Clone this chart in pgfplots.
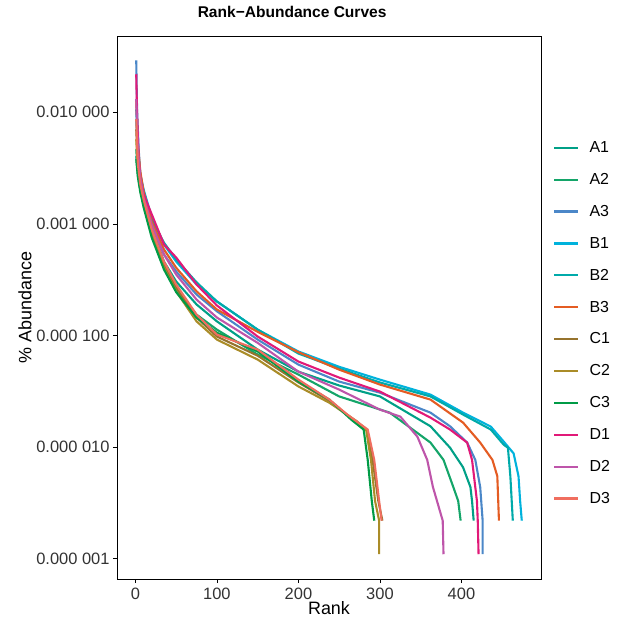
\documentclass[border=0pt]{standalone}
\usepackage{fontspec}
\setmainfont{Liberation Sans}
\usepackage{pgfplots}
\pgfplotsset{compat=1.18}

\definecolor{cA1}{RGB}{0,160,135}
\definecolor{cA2}{RGB}{20,165,105}
\definecolor{cA3}{RGB}{75,135,200}
\definecolor{cB1}{RGB}{0,178,220}
\definecolor{cB2}{RGB}{0,170,170}
\definecolor{cB3}{RGB}{228,92,35}
\definecolor{cC1}{RGB}{150,115,45}
\definecolor{cC2}{RGB}{170,140,40}
\definecolor{cC3}{RGB}{0,155,70}
\definecolor{cD1}{RGB}{225,25,120}
\definecolor{cD2}{RGB}{190,85,170}
\definecolor{cD3}{RGB}{240,110,95}

\begin{document}
\begin{tikzpicture}
\begin{axis}[
  name=ax,
  scale only axis, width=424bp, height=543bp,
  xmin=-22.6, xmax=497.6,
  ymode=log, ymin=6.6e-7, ymax=0.0482,
  xtick={0,100,200,300,400}, xticklabels={0,100,200,300,400},
  ytick={1e-6,1e-5,1e-4,1e-3,1e-2},
  yticklabels={0.000 001,0.000 010,0.000 100,0.001 000,0.010 000},
  xtick pos=left, ytick pos=left,
  minor tick num=0, log basis y=10,
  yminorticks=false,
  tick align=outside, major tick length=4bp,
  tick style={black, line width=0.8bp},
  axis line style={black, line width=0.8bp},
  tick label style={font=\fontsize{16.5}{19}\selectfont, text=black!80},
  xticklabel style={yshift=-1bp},
  ylabel={\% Abundance}, xlabel={Rank},
  label style={font=\fontsize{18}{21}\selectfont},
  xlabel style={at={(rel axis cs:0.5,0)}, anchor=center, yshift=-29bp},
  ylabel style={at={(rel axis cs:0,0.5)}, anchor=center, yshift=92bp},
  title={Rank−Abundance Curves},
  title style={font=\bfseries\fontsize{15.6}{18}\selectfont, at={(rel axis cs:0.413,1)}, anchor=base, yshift=13bp},
  every axis plot post/.append style={line width=2.1bp, line join=round},
  legend image code/.code={\draw[#1, line width=2.3bp] (0bp,0bp) -- (24bp,0bp);},
  legend cell align=left,
  legend style={draw=none, fill=none, at={(1,0.471)}, xshift=12bp, anchor=west,
    inner sep=0pt, row sep=19.3bp, font=\fontsize{16}{19}\selectfont,
    nodes={inner sep=0pt},
    /tikz/every odd column/.append style={column sep=10bp}},
]
% A1
\addplot[cA1] coordinates {(1,0.00403)(3,0.00278)(6,0.00204)(10,0.00166)(20,0.00093)(35,0.00046)(50,0.000305)(75,0.00019)(100,0.000134)(150,7.49e-5)(200,4.75e-5)(250,3.57e-5)(300,2.85e-5)(362,1.54e-5)(386,9.9e-6)(402,6.6e-6)(411,4.4e-6)(413,3.3e-6)(415,2.2e-6)};
% A2
\addplot[cA2] coordinates {(1,0.00466)(3,0.00295)(6,0.00204)(10,0.0015)(20,0.000805)(35,0.000405)(50,0.000259)(75,0.000154)(100,0.000113)(150,6.76e-5)(200,4.47e-5)(250,2.85e-5)(312,2.04e-5)(362,1.1e-5)(378,7.7e-6)(390,4.4e-6)(396,3.3e-6)(399,2.2e-6)};
% A3
\addplot[cA3] coordinates {(1,0.0292)(2,0.0106)(4,0.00466)(6,0.00278)(10,0.00192)(20,0.00099)(35,0.000533)(50,0.000375)(75,0.000233)(100,0.000165)(150,9.2e-5)(200,5.49e-5)(250,3.87e-5)(300,3.08e-5)(362,2.04e-5)(386,1.54e-5)(407,1.1e-5)(417,7.7e-6)(423,4.4e-6)(426,2.2e-6)(426,1.1e-6)};
% B1
\addplot[cB1] coordinates {(1,0.0106)(3,0.00466)(6,0.00278)(10,0.00204)(20,0.00115)(35,0.000655)(50,0.00046)(75,0.000287)(100,0.000202)(150,0.000113)(200,7.2e-5)(250,5.25e-5)(300,4.03e-5)(362,2.96e-5)(402,2.04e-5)(436,1.53e-5)(452,1.12e-5)(464,8.8e-6)(470,5.5e-6)(472,3.3e-6)(474,2.2e-6)};
% B2
\addplot[cB2] coordinates {(1,0.00866)(3,0.0042)(6,0.00262)(10,0.00196)(20,0.0011)(35,0.00068)(50,0.00048)(75,0.0003)(100,0.000202)(150,0.000113)(200,6.9e-5)(250,5.05e-5)(300,3.8e-5)(362,2.85e-5)(402,1.96e-5)(436,1.44e-5)(452,1.05e-5)(457,9.9e-6)(460,5.5e-6)(463,2.2e-6)};
% B3
\addplot[cB3] coordinates {(1,0.0131)(3,0.00516)(6,0.00295)(10,0.00196)(20,0.00105)(35,0.000591)(50,0.000405)(75,0.000249)(100,0.000171)(150,0.000108)(200,7.1e-5)(250,4.95e-5)(300,3.64e-5)(362,2.67e-5)(402,1.66e-5)(423,1.1e-5)(438,7.7e-6)(444,5.5e-6)(446,2.2e-6)};
% C1
\addplot[cC1] coordinates {(1,0.00704)(3,0.00342)(6,0.00214)(10,0.00156)(20,0.000855)(35,0.000433)(50,0.00027)(75,0.000145)(100,9.8e-5)(150,6.6e-5)(200,3.8e-5)(238,2.6e-5)(272,1.66e-5)(284,1.44e-5)(291,7.7e-6)(298,3.3e-6)(303,2.2e-6)};
% C2
\addplot[cC2] coordinates {(1,0.00573)(3,0.00308)(6,0.00204)(10,0.0015)(20,0.000805)(35,0.000405)(50,0.000249)(75,0.000134)(100,9.2e-5)(150,6.09e-5)(200,3.5e-5)(238,2.5e-5)(272,1.7e-5)(283,1.44e-5)(289,7.7e-6)(294,3.3e-6)(299,2.2e-6)(299,1.1e-6)};
% C3
\addplot[cC3] coordinates {(1,0.00379)(3,0.00262)(6,0.00192)(10,0.00141)(20,0.000755)(35,0.000391)(50,0.000245)(75,0.000145)(100,0.000106)(150,7.2e-5)(200,3.87e-5)(238,2.67e-5)(265,1.76e-5)(280,1.44e-5)(285,7.7e-6)(290,3.3e-6)(293,2.2e-6)};
% D1
\addplot[cD1] coordinates {(1,0.0219)(2,0.0096)(4,0.00379)(6,0.00251)(10,0.00184)(15,0.0015)(20,0.00122)(35,0.000655)(50,0.0005)(75,0.000287)(100,0.000186)(150,9.8e-5)(200,5.85e-5)(250,4.2e-5)(300,3.15e-5)(362,1.84e-5)(386,1.44e-5)(407,1.1e-5)(413,7.7e-6)(419,3.3e-6)(420,2.2e-6)(421,1.1e-6)};
% D2
\addplot[cD2] coordinates {(1,0.0131)(3,0.00466)(6,0.00262)(10,0.00173)(20,0.00099)(35,0.000533)(50,0.000352)(75,0.00021)(100,0.000145)(150,8.6e-5)(200,4.75e-5)(250,3.28e-5)(300,2.17e-5)(325,1.88e-5)(346,1.24e-5)(358,7.7e-6)(365,4.4e-6)(370,3.3e-6)(377,2.2e-6)(378,1.1e-6)};
% D3
\addplot[cD3] coordinates {(1,0.00866)(3,0.00342)(6,0.00226)(10,0.00166)(20,0.000893)(35,0.00046)(50,0.000287)(75,0.000154)(100,0.000102)(150,7.49e-5)(200,4.03e-5)(238,2.67e-5)(260,1.96e-5)(285,1.44e-5)(293,7.7e-6)(299,3.3e-6)(302,2.2e-6)};
\legend{A1,A2,A3,B1,B2,B3,C1,C2,C3,D1,D2,D3}
\end{axis}
\pgfresetboundingbox
\path[use as bounding box] ([shift={(-117bp,-49bp)}]ax.south west) rectangle ++(620bp,628bp);
\end{tikzpicture}
\end{document}
